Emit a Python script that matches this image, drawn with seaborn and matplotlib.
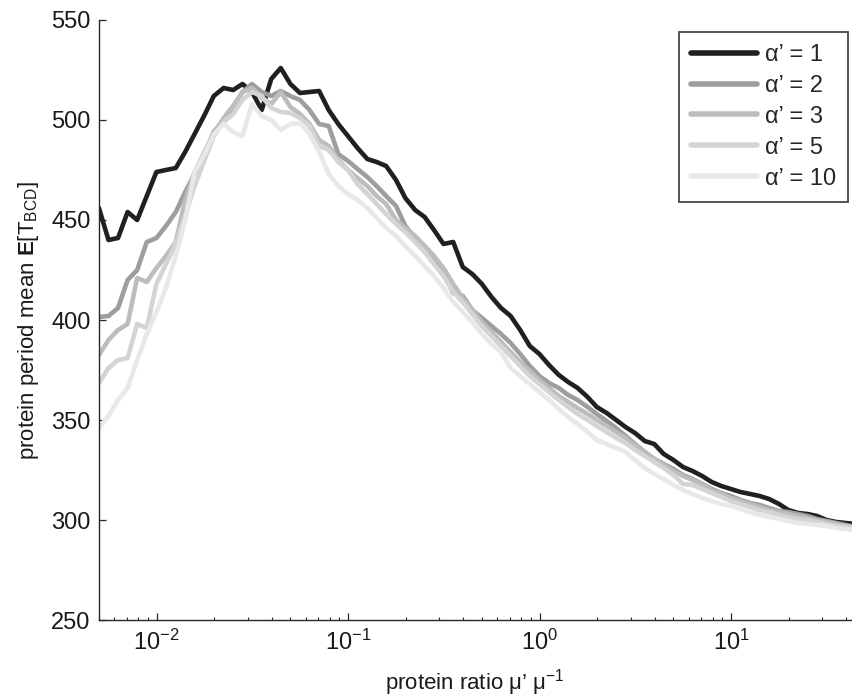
import numpy as np
import pandas as pd
import matplotlib
matplotlib.use("Agg")
import matplotlib.pyplot as plt
from matplotlib.ticker import LogLocator, NullFormatter, FixedLocator
import seaborn as sns

# protein ratio mu'/mu (log-spaced sample points)
ratio = [0.005, 0.00561, 0.00629, 0.00706, 0.00792, 0.00889, 0.00998, 0.0112, 0.0126, 0.0141,
         0.0158, 0.0178, 0.0199, 0.0224, 0.0251, 0.0281, 0.0315, 0.0354, 0.0397, 0.0445,
         0.05, 0.0561, 0.0629, 0.0706, 0.0792, 0.0889, 0.0998, 0.112, 0.126, 0.141,
         0.158, 0.178, 0.199, 0.224, 0.251, 0.281, 0.315, 0.354, 0.397, 0.445,
         0.5, 0.561, 0.629, 0.706, 0.792, 0.889, 0.998, 1.12, 1.26, 1.41,
         1.58, 1.78, 1.99, 2.24, 2.51, 2.81, 3.15, 3.54, 3.97, 4.45,
         5.0, 5.61, 6.29, 7.06, 7.92, 8.89, 9.98, 11.2, 12.6, 14.1,
         15.8, 17.8, 19.9, 22.4, 25.1, 28.1, 31.5, 35.4, 39.7, 44.5, 50.0]

# mean protein period E[T_BCD] for each alpha'
period_a1 = [456, 440, 441, 454, 450, 462, 474, 475, 476, 484,
             493, 502.5, 512, 516, 515, 518, 514, 505, 520.5, 526,
             518, 513.5, 514, 514.5, 505, 498, 492, 486, 480.5, 479,
             477, 470, 461, 455, 451.5, 445, 438, 439, 426.5, 423,
             418, 411.5, 406, 402, 395, 387, 383, 377.5, 372.5, 369,
             366, 361.5, 356.5, 353.5, 350, 346.5, 343.5, 339.5, 338, 333,
             330, 326.5, 324.5, 322, 319, 317, 315.5, 314, 313, 312,
             310.5, 308, 305, 303.5, 303, 302, 300, 299, 298.5, 298, 297.5]
period_a2 = [401.5, 402, 406, 420, 425, 439, 441, 447, 454, 464,
             473, 483, 494, 500, 506, 514, 518, 514, 512, 514.5,
             512, 510, 505, 498, 497, 483, 479.5, 475.5, 471.5, 467,
             462, 457, 447, 441, 437, 431, 424, 413.5, 412, 405,
             401, 397, 393, 388.5, 383, 377, 372, 368.5, 366, 362.5,
             360, 356.5, 353, 349.5, 346, 342, 338, 334, 330.5, 328,
             325.5, 322.5, 320.5, 318, 315.5, 313.5, 312, 310, 308.5, 307.5,
             306, 304.5, 304, 303, 302, 300.5, 299.5, 298.5, 297.5, 296.5, 296]
period_a3 = [382.5, 390, 395, 398, 421, 419, 426, 432, 439, 460,
             474, 484, 493, 501, 507, 514, 516, 511, 508, 514,
             506.5, 503, 498, 490, 487, 480, 475, 471, 467, 462,
             458, 450, 446, 442, 437, 432, 426, 418, 411, 405,
             399, 394, 389, 384, 379, 374.5, 370, 366, 362, 359,
             356, 353, 350, 347, 344, 341, 337.5, 334, 330.5, 327.5,
             324.5, 322, 320, 317.5, 315, 313, 311, 309.5, 308, 306.5,
             305, 304, 303, 302, 301, 300, 299, 298, 297, 296.5, 296]
period_a5 = [368.5, 376, 380, 381, 398, 396, 418, 428, 438, 452,
             467, 480, 492, 499, 503, 510, 514, 512, 506, 504,
             503.5, 501, 497, 487, 485, 479, 475, 468, 463, 458,
             453, 448, 444, 439, 434, 428, 422, 414, 409, 403,
             397, 392, 387, 382, 377, 372, 368, 364, 360, 356.5,
             353, 350, 347, 344, 341, 338.5, 335, 332, 329, 326,
             322.5, 318, 317.5, 315.5, 313.5, 311.5, 309.5, 308, 306.5, 305,
             304, 302.5, 301.5, 300.5, 300, 299, 298, 297, 296.5, 296, 295.5]
period_a10 = [346, 352, 360, 366, 380, 393, 404, 416, 432, 450,
              474, 483, 493, 498, 494, 492, 508, 502, 500, 495,
              498, 498.5, 493, 484, 473, 467, 463, 460, 456, 451,
              446, 442, 437, 432, 427, 422, 416, 409, 404, 399,
              393, 388, 384, 376, 372, 368, 364, 360, 355.5, 351.5,
              348, 344, 340, 338, 336, 334, 330, 326, 323, 320.5,
              317.5, 315, 313, 311, 309.5, 308, 307, 305.5, 304, 302.5,
              301.5, 300.5, 299.5, 298.5, 298, 297.5, 297, 296, 295.5, 295, 294.5]

alpha_labels = ["α’ = 1", "α’ = 2", "α’ = 3", "α’ = 5", "α’ = 10"]
line_colors = ["#231f20", "#9d9ea2", "#bcbdbf", "#d4d4d4", "#e8e8e9"]
y_ticks = [250, 300, 350, 400, 450, 500, 550]

series = [period_a1, period_a2, period_a3, period_a5, period_a10]
df = pd.concat(
    [pd.DataFrame({"ratio": ratio, "period": vals, "alpha": lab})
     for lab, vals in zip(alpha_labels, series)],
    ignore_index=True,
)

sns.set_style("white")
plt.rcParams["font.family"] = ["Liberation Sans", "DejaVu Sans"]
plt.rcParams["mathtext.fontset"] = "custom"
plt.rcParams["mathtext.rm"] = "Liberation Sans"
plt.rcParams["mathtext.it"] = "Liberation Sans:italic"
plt.rcParams["mathtext.bf"] = "Liberation Sans:bold"
plt.rcParams["mathtext.default"] = "regular"

fig = plt.figure(figsize=(8.52, 6.99), dpi=100)
ax = fig.add_axes([0.1161, 0.1130, 0.8991, 0.8584])

sns.lineplot(
    data=df, x="ratio", y="period", hue="alpha", hue_order=alpha_labels,
    palette=dict(zip(alpha_labels, line_colors)), linewidth=3.3,
    estimator=None, sort=False, legend=False, ax=ax,
)

ax.set_xscale("log")
ax.set_xlim(0.005, 50)
ax.set_ylim(250, 550)
ax.yaxis.set_major_locator(FixedLocator(y_ticks))
ax.xaxis.set_major_locator(LogLocator(base=10, numticks=12))
ax.xaxis.set_minor_locator(LogLocator(base=10, subs=np.arange(2, 10), numticks=12))
ax.xaxis.set_minor_formatter(NullFormatter())

for side in ["top", "right"]:
    ax.spines[side].set_visible(False)
for side in ["left", "bottom"]:
    ax.spines[side].set_color("#262626")
    ax.spines[side].set_linewidth(1.0)

ax.tick_params(axis="both", which="both", bottom=True, left=True, top=False, right=False)
ax.tick_params(axis="both", which="major", direction="in", length=5, width=0.9,
               color="#262626", labelsize=17, labelcolor="#1a1a1a")
ax.tick_params(axis="x", which="minor", direction="in", length=2.5, width=0.8,
               color="#262626")
ax.tick_params(axis="y", which="major", pad=6)
ax.tick_params(axis="x", which="major", pad=7)

ax.set_xlabel("protein ratio μ’ μ$^{-1}$", fontsize=16, color="#1a1a1a")
ax.set_ylabel(r"protein period mean $\mathbf{E}$[T$_{\mathrm{BCD}}$]",
              fontsize=16, color="#1a1a1a")
ax.xaxis.set_label_coords(0.49, -0.078)
ax.yaxis.set_label_coords(-0.076, 0.5)

leg = ax.legend(
    ax.lines[:len(alpha_labels)], alpha_labels,
    loc="upper left", bbox_to_anchor=(679 / 852, 1 - 32 / 699),
    bbox_transform=fig.transFigure, borderaxespad=0,
    fontsize=17, handlelength=2.8, handletextpad=0.35, labelspacing=0.38,
    borderpad=0.5, frameon=True, fancybox=False,
)
leg.get_frame().set_edgecolor("#1a1a1a")
leg.get_frame().set_linewidth(1.3)
for line in leg.get_lines():
    line.set_linewidth(4)

fig.savefig("out.png", dpi=100, facecolor="white")
